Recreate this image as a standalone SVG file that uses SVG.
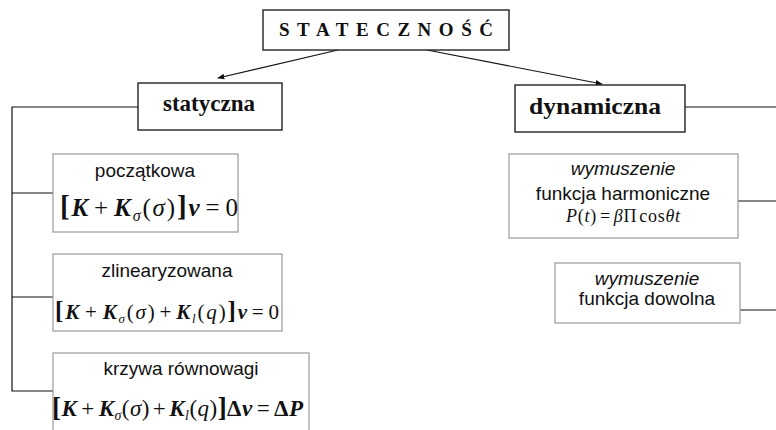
<svg xmlns="http://www.w3.org/2000/svg" width="776" height="430" viewBox="0 0 776 430">
  <style>
    .main { fill: #fff; stroke: #222; stroke-width: 1.4; }
    .sub { fill: #fff; stroke: #9a9a9a; stroke-width: 1.2; }
    .conn { fill: none; stroke: #111; stroke-width: 1.2; }
    .title { font-family: "Liberation Serif", serif; font-weight: bold; fill: #111; }
    .lbl { font-family: "Liberation Sans", Arial, sans-serif; font-size: 19px; fill: #111; }
    .it { font-style: italic; }
    .math { font-family: "Liberation Serif", serif; fill: #111; }
    .bi { font-weight: bold; font-style: italic; }
    .i { font-style: italic; }
    .br { font-weight: bold; }
  </style>
  <defs>
    <marker id="arrow" viewBox="0 0 10 10" refX="9" refY="5" markerWidth="7" markerHeight="7" orient="auto" markerUnits="userSpaceOnUse">
      <path d="M0,1 L10,5 L0,9 z" fill="#111"/>
    </marker>
  </defs>

  <!-- connectors -->
  <g id="connectors">
    <line class="conn" x1="338" y1="50" x2="218" y2="78" marker-end="url(#arrow)"/>
    <line class="conn" x1="427" y1="50" x2="602" y2="84" marker-end="url(#arrow)"/>
    <polyline class="conn" points="138,107 12,107 12,391 53,391"/>
    <line class="conn" x1="12" y1="193" x2="53" y2="193"/>
    <line class="conn" x1="12" y1="297" x2="53" y2="297"/>
    <line class="conn" x1="685" y1="107" x2="776" y2="107"/>
    <line class="conn" x1="738" y1="201" x2="776" y2="201"/>
    <line class="conn" x1="740" y1="310" x2="776" y2="310"/>
  </g>

  <!-- root -->
  <g id="statecznosc">
    <rect class="main" x="263" y="10" width="246" height="40"/>
    <text class="title" x="279" y="36" font-size="19" textLength="214" lengthAdjust="spacing">STATECZNOŚĆ</text>
  </g>

  <!-- static branch -->
  <g id="statyczna">
    <rect class="main" x="138" y="83" width="144" height="47"/>
    <text class="title" x="163" y="111" font-size="23" textLength="92" lengthAdjust="spacingAndGlyphs">statyczna</text>
  </g>

  <g id="poczatkowa">
    <rect class="sub" x="53" y="154" width="185" height="78"/>
    <text class="lbl" x="145" y="177" text-anchor="middle">początkowa</text>
    <text class="math" x="60" y="216" font-size="25" textLength="178" lengthAdjust="spacing"><tspan class="br" font-size="29">[</tspan><tspan class="bi">K</tspan><tspan dx="4">+</tspan><tspan class="bi" dx="4">K</tspan><tspan class="i" font-size="16" dy="5">σ</tspan><tspan dy="-5">(</tspan><tspan class="i">σ</tspan>)<tspan class="br" font-size="29">]</tspan><tspan class="bi">v</tspan><tspan dx="4">=</tspan><tspan dx="4">0</tspan></text>
  </g>

  <g id="zlinearyzowana">
    <rect class="sub" x="53" y="254" width="229" height="77"/>
    <text class="lbl" x="167" y="277" text-anchor="middle">zlinearyzowana</text>
    <text class="math" x="55" y="319" font-size="21" textLength="224" lengthAdjust="spacing"><tspan class="br" font-size="25">[</tspan><tspan class="bi">K</tspan><tspan dx="4">+</tspan><tspan class="bi" dx="4">K</tspan><tspan class="i" font-size="13" dy="4">σ</tspan><tspan dy="-4">(</tspan><tspan class="i">σ</tspan>)<tspan dx="3">+</tspan><tspan class="bi" dx="3">K</tspan><tspan class="i" font-size="13" dy="4">l</tspan><tspan dy="-4">(</tspan><tspan class="i">q</tspan>)<tspan class="br" font-size="25">]</tspan><tspan class="bi">v</tspan><tspan dx="3">=</tspan><tspan dx="3">0</tspan></text>
  </g>

  <g id="krzywa-rownowagi">
    <rect class="sub" x="53" y="353" width="256" height="90"/>
    <text class="lbl" x="181" y="375" text-anchor="middle">krzywa równowagi</text>
    <text class="math" x="52" y="416" font-size="23" textLength="251" lengthAdjust="spacing"><tspan class="br" font-size="27">[</tspan><tspan class="bi">K</tspan><tspan dx="4">+</tspan><tspan class="bi" dx="4">K</tspan><tspan class="i" font-size="14" dy="4">σ</tspan><tspan dy="-4">(</tspan><tspan class="i">σ</tspan>)<tspan dx="3">+</tspan><tspan class="bi" dx="3">K</tspan><tspan class="i" font-size="14" dy="4">l</tspan><tspan dy="-4">(</tspan><tspan class="i">q</tspan>)<tspan class="br" font-size="27">]</tspan><tspan class="br">Δ</tspan><tspan class="bi">v</tspan><tspan dx="4">=</tspan><tspan class="br" dx="4">Δ</tspan><tspan class="bi">P</tspan></text>
  </g>

  <!-- dynamic branch -->
  <g id="dynamiczna">
    <rect class="main" x="515" y="85" width="170" height="47"/>
    <text class="title" x="529" y="114" font-size="24" textLength="132" lengthAdjust="spacingAndGlyphs">dynamiczna</text>
  </g>

  <g id="harmoniczne">
    <rect class="sub" x="509" y="154" width="229" height="84"/>
    <text class="lbl it" x="623" y="175" text-anchor="middle">wymuszenie</text>
    <text class="lbl" x="623" y="200" text-anchor="middle">funkcja harmoniczne</text>
    <text class="math" x="566" y="222" font-size="18" textLength="114" lengthAdjust="spacing"><tspan class="i">P</tspan>(<tspan class="i">t</tspan>)<tspan dx="3">=</tspan><tspan class="i" dx="3">β</tspan>Π<tspan dx="2">cos</tspan><tspan class="i">θt</tspan></text>
  </g>

  <g id="dowolna">
    <rect class="sub" x="555" y="263" width="185" height="60"/>
    <text class="lbl it" x="647" y="285" text-anchor="middle">wymuszenie</text>
    <text class="lbl" x="647" y="305" text-anchor="middle">funkcja dowolna</text>
  </g>
</svg>
